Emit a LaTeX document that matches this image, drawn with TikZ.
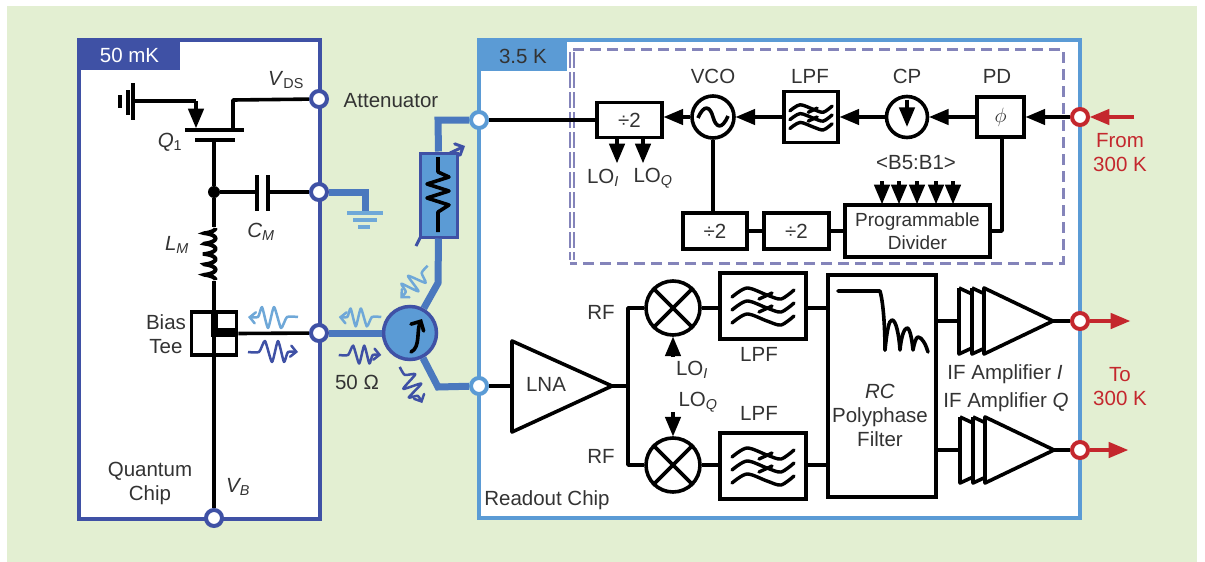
\documentclass[tikz,border=0pt]{standalone}
\usepackage{fontspec}
\setmainfont{Liberation Sans}
\usetikzlibrary{arrows}
\definecolor{deepblue}{HTML}{3F51A5}
\definecolor{skyblue}{HTML}{5B9BD5}
\definecolor{bandblue}{HTML}{4A78BE}
\definecolor{dashblue}{HTML}{8484BA}
\definecolor{paleblue}{HTML}{6FA8D8}
\definecolor{redpin}{HTML}{C4272D}
\definecolor{bggreen}{HTML}{E3EFD2}
\definecolor{inkgray}{HTML}{333333}
\tikzset{
  wire/.style={line width=3.6,line join=round},
  band/.style={line width=7,bandblue},
  arrow/.style={wire,->,>=triangle 45},
  block/.style={draw,line width=3.6,fill=white,inner sep=0pt,align=center},
  ring/.style={draw,circle,line width=3.6,fill=white,inner sep=0pt},
  pinblue/.style={draw=#1,circle,line width=4,fill=white,inner sep=0pt,minimum size=16},
  wave/.pic={
    \draw[->,>=angle 90,line width=2.5,line join=round] plot[smooth,tension=0.35] coordinates
      {(-25,0) (-14,0) (-8,-11) (-1,10) (5,-11) (11,10) (15,0) (25,0)};
  },
  lpfwave/.pic={
    \foreach \yy in {-13,0,13}
      \draw[line width=3.4,line cap=round] plot[smooth] coordinates
        {(-31,4+\yy) (-16,-5+\yy) (4,2+\yy) (18,6+\yy) (31,-3+\yy)};
    \draw[line width=3.4,line cap=round] (-4,-7) -- (9,-13) (-4,6) -- (9,0);
  },
  ifamp/.pic={
    \coordinate (-in) at (0,0);
    \coordinate (-out) at (94,0);
    \draw[wire,fill=white] (0,-33) -- (0,33) -- (13,27) (13,-33) -- (13,33) -- (26,27)
      (0,-33) -- (13,-27) (13,-33) -- (26,-27);
    \draw[wire,fill=white] (25,-33) -- (94,0) -- (25,33) -- cycle;
  }
}
\begin{document}
\begin{tikzpicture}[x=1pt,y=-1pt,every node/.style={font=\fontsize{20.5}{24}\selectfont,text=inkgray}]
\useasboundingbox (0,0) rectangle (1205,562);
\fill[bggreen] (7,6) rectangle (1197,562);

\node[draw=deepblue,fill=white,line width=4,minimum width=241,minimum height=479] (qchip) at (199.5,279.5) {};
\node[fill=deepblue,text=white,minimum width=101,minimum height=30,inner sep=0pt] (mk) at (129.5,55) {50 mK};
\node[draw=skyblue,fill=white,line width=4,minimum width=601,minimum height=478] (rchip) at (779.5,279) {};
\node[fill=skyblue,minimum width=88,minimum height=30,inner sep=0pt] (kk) at (523,56) {3.5 K};
\node[pinblue=deepblue] (vdspin) at (319,99) {};
\node[pinblue=deepblue] (cmpin) at (319,192) {};
\node[pinblue=deepblue] (biaspin) at (319,333) {};
\node[pinblue=deepblue] (vbpin) at (214,518) {};
\node[pinblue=skyblue] (attpin) at (479,120) {};
\node[pinblue=skyblue] (lnapin) at (479,386) {};
\node[pinblue=redpin] (refpin) at (1080,117) {};
\node[pinblue=redpin] (ipin) at (1080,321) {};
\node[pinblue=redpin] (qpin) at (1080,450) {};

% synthesizer frame
\draw[line width=3,dashblue,dash pattern=on 11pt off 6pt] (573,49) -- (1063,49) -- (1063,263) -- (570,263);
\draw[line width=1.3,dashblue,dash pattern=on 16pt off 4pt] (570,52) -- (570,260) (574,52) -- (574,260);

% transistor
\coordinate (src) at (196,101);
\coordinate (drn) at (233,130);
\coordinate (gate) at (214,140);
\node[fill=black,circle,inner sep=0pt,minimum size=12] (dot) at (214,192) {};
\draw[wire] (133,83) -- (133,120) (128,90) -- (128,115);
\draw[line width=4] (120,95) -- (120,108);
\draw[wire] (133,101) -- (src);
\draw[arrow] (src) -- (196,128);
\draw[wire] (185,130) -- (244,130);
\draw[wire] (195,140) -- (235,140);
\draw[wire] (drn) -- (233,100) -- (vdspin);
\draw[wire] (gate) -- (dot);
\coordinate (capa) at (257,192);
\coordinate (capb) at (268,192);
\draw[wire] (dot) -- (capa);
\draw[wire] (capb) -- (cmpin);
\draw[wire] (257,175) -- (257,211);
\draw[wire] (268,175) -- (268,211);
\coordinate (coila) at (214,227);
\coordinate (coilb) at (214,281);
\draw[wire] (dot) -- (coila);
\draw[line width=4] plot[domain=0:1800,samples=160] ({210+5.5*cos(\x)},{228+\x/1800*52+1.5*sin(\x)});
\node[block,minimum width=45,minimum height=43] (tee) at (214,333.5) {};
\coordinate (teeknee) at (214,337);
\draw[wire] (coilb) -- (tee);
\fill (211,312) rectangle (218,337);
\fill (211,328) rectangle (237,337);
\draw[wire] (tee.east) -- (biaspin);
\draw[wire] (teeknee) -- (vbpin);

\path (273,317) pic[color=paleblue,rotate=180] {wave};
\path (273,352) pic[color=deepblue] {wave};

\node (vds) at (286,80) {\textit{V}\textsubscript{DS}};
\node (qone) at (170,142) {\textit{Q}\textsubscript{1}};
\node (cm) at (261,232) {\textit{C\textsubscript{M}}};
\node (lm) at (177,245) {\textit{L\textsubscript{M}}};
\node[align=center] (biastext) at (166,334) {Bias\\Tee};
\node[align=center] (qtext) at (150,483) {Quantum\\Chip};
\node (vb) at (238,487) {\textit{V\textsubscript{B}}};

% circulator and attenuator
\node[draw=deepblue,fill=skyblue,line width=3,minimum width=37,minimum height=84,inner sep=0pt] (atten) at (438.5,195) {};
\node[draw=deepblue,fill=skyblue,circle,line width=3.5,minimum size=53,inner sep=0pt] (circ) at (410,333) {};
\draw[band] (biaspin) -- (circ);
\draw[band] (attpin) -- (438,120) -- (atten.north);
\draw[band] (atten.south) -- (438,283) -- (circ);
\draw[band] (circ) -- (438,387) -- (lnapin);
\coordinate (gnd) at (365,213);
\draw[band] (cmpin) -- (365,192) -- (gnd);
\draw[line width=4,paleblue] (347,213) -- (383,213) (353,220) -- (377,220) (358,227) -- (370,227);
\draw[wire] (438,157) -- (438,172) -- (449,177) -- (427,184) -- (449,191) -- (427,198) -- (449,205) -- (438,212) -- (438,232);
\draw[line width=3,deepblue] (416,246) -- (421,236);
\draw[line width=3,deepblue,->,>=angle 90] (450,153) -- (465,146);
\draw[wire,->,>=angle 90,line cap=round] (411,352) .. controls (421,347) and (416,330) .. (422,319);
\path (360,317) pic[color=paleblue,rotate=180,scale=0.85] {wave};
\path (360,355) pic[color=deepblue,scale=0.85] {wave};
\path (414,282) pic[color=paleblue,rotate=230,scale=0.85] {wave};
\path (411,385) pic[color=deepblue,rotate=-58,scale=0.85] {wave};
\node (atttext) at (391,101) {Attenuator};
\node (ohm) at (357,382) {50 Ω};

% synthesizer
\node[block,minimum width=65,minimum height=35] (divtop) at (629.5,120) {÷2};
\node[ring,minimum size=42] (vco) at (713,117) {};
\node[block,minimum width=54,minimum height=51] (lpftop) at (811,117) {};
\node[ring,minimum size=41] (cp) at (907,117) {};
\node[block,minimum width=47,minimum height=40] (pd) at (1000.5,117) {$\phi$};
\node[block,minimum width=64,minimum height=36] (diva) at (715,231) {÷2};
\node[block,minimum width=65,minimum height=36] (divb) at (796.5,231) {÷2};
\node[block,minimum width=145,minimum height=52,font=\fontsize{19}{23}\selectfont] (prog) at (917.5,231) {Programmable\\Divider};
\coordinate (pdtap) at (1002,137);
\draw[wire] (attpin) -- (divtop);
\draw[arrow] (vco) -- (divtop.east |- vco);
\draw[arrow] (lpftop) -- (vco);
\draw[arrow] (cp) -- (lpftop);
\draw[arrow] (pd) -- (cp);
\draw[arrow] (refpin) -- (pd);
\draw[wire] (vco.south) -- (vco.south |- diva.north);
\draw[wire] (diva) -- (divb);
\draw[wire] (divb) -- (prog);
\draw[wire] (prog.east) -- (pdtap |- prog.east) -- (pdtap);
\coordinate (loi) at (617,163);
\coordinate (loq) at (643,163);
\draw[arrow] (loi |- divtop.south) -- (loi);
\draw[arrow] (loq |- divtop.south) -- (loq);
\foreach \xx in {882,899,917,936,953}
  \draw[arrow] (\xx,181) -- (\xx,204);
\draw[wire] (698,118) .. controls (704,104) and (710,106) .. (713,117) .. controls (716,128) and (722,130) .. (728,116);
\draw[arrow] (cp.north) ++(0,5) -- ++(0,27);
\path (811,117) pic[scale=0.68] {lpfwave};
\node (vcotext) at (713,76) {VCO};
\node (lpftext) at (810,76) {LPF};
\node (cptext) at (907,76) {CP};
\node (pdtext) at (997,76) {PD};
\node (bits) at (916,163) {<B5:B1>};
\node (loitext) at (603,178) {LO\textsubscript{\textit{I}}};
\node (loqtext) at (653,178) {LO\textsubscript{\textit{Q}}};
\coordinate (fromred) at (1134,117);
\draw[wire,redpin,->,>=triangle 45] (fromred) -- (refpin);
\node[text=redpin,align=center] (fromtext) at (1120,153) {From\\300 K};

% receiver
\coordinate (lnain) at (512,386);
\coordinate (lnaout) at (612,386);
\coordinate (fork) at (628,386);
\draw[wire] (lnain) -- (512,341) -- (lnaout) -- (512,432) -- cycle;
\draw[wire] (lnapin) -- (lnain);
\draw[wire] (lnaout) -- (fork);
\node[ring,minimum size=54] (mixi) at (673,308) {};
\node[ring,minimum size=54] (mixq) at (673,465) {};
\draw[wire] (mixi.45) -- (mixi.225) (mixi.135) -- (mixi.315);
\draw[wire] (mixq.45) -- (mixq.225) (mixq.135) -- (mixq.315);
\draw[wire] (mixi) -- (fork |- mixi) -- (fork) -- (fork |- mixq) -- (mixq);
\node[block,minimum width=86,minimum height=66] (lpfi) at (763,306) {};
\node[block,minimum width=86,minimum height=66] (lpfq) at (763,466) {};
\node[block,minimum width=108,minimum height=222] (rcf) at (882,386) {};
\path (763,306) pic {lpfwave};
\path (763,466) pic {lpfwave};
\draw[wire] (mixi) -- (lpfi.west |- mixi);
\draw[wire] (mixq) -- (lpfq.west |- mixq);
\draw[wire] (lpfi.east |- mixi) -- (rcf.west |- mixi);
\draw[wire] (lpfq.east |- mixq) -- (rcf.west |- mixq);
\draw[arrow] (673,357) -- (mixi.south);
\draw[arrow] (673,412) -- (mixq.north);
\draw[line width=3.6,line join=round,line cap=round] (838,291) -- (880,291) .. controls (884,305) and (885,335) .. (885,350);
\draw[line width=3.6,line join=round,line cap=round] (885,350) .. controls (887,330) and (889,320) .. (892,320) .. controls (896,320) and (899,335) .. (900,350)
  .. controls (901,338) and (904,328) .. (907,328) .. controls (910,328) and (912,340) .. (913,350)
  .. controls (914,344) and (916,337) .. (918,337) .. controls (922,337) and (926,345) .. (928,352);
\path (959,321) pic (ampi) {ifamp};
\path (960,450) pic (ampq) {ifamp};
\draw[wire] (rcf.east |- ampi-in) -- (ampi-in);
\draw[wire] (rcf.east |- ampq-in) -- (ampq-in);
\draw[wire] (ampi-out) -- (ipin);
\draw[wire] (ampq-out) -- (qpin);
\coordinate (toi) at (1130,321);
\coordinate (toq) at (1128,450);
\draw[wire,redpin,->,>=triangle 45] (ipin) -- (toi);
\draw[wire,redpin,->,>=triangle 45] (qpin) -- (toq);
\node (lnatext) at (546,384) {LNA};
\node (rfi) at (601,312) {RF};
\node (rfq) at (601,456) {RF};
\node (readout) at (547,500) {Readout Chip};
\node (loia) at (692,370) {LO\textsubscript{\textit{I}}};
\node (loqa) at (698,402) {LO\textsubscript{\textit{Q}}};
\node (lpfia) at (759,354) {LPF};
\node (lpfqa) at (759,413) {LPF};
\node[align=center] (rctext) at (880,415) {\textit{RC}\\Polyphase\\Filter};
\node (amptexti) at (1005,374) {IF Amplifier \textit{I}};
\node (amptextq) at (1006,402) {IF Amplifier \textit{Q}};
\node[text=redpin,align=center] (totext) at (1120,387) {To\\300 K};
\end{tikzpicture}
\end{document}
